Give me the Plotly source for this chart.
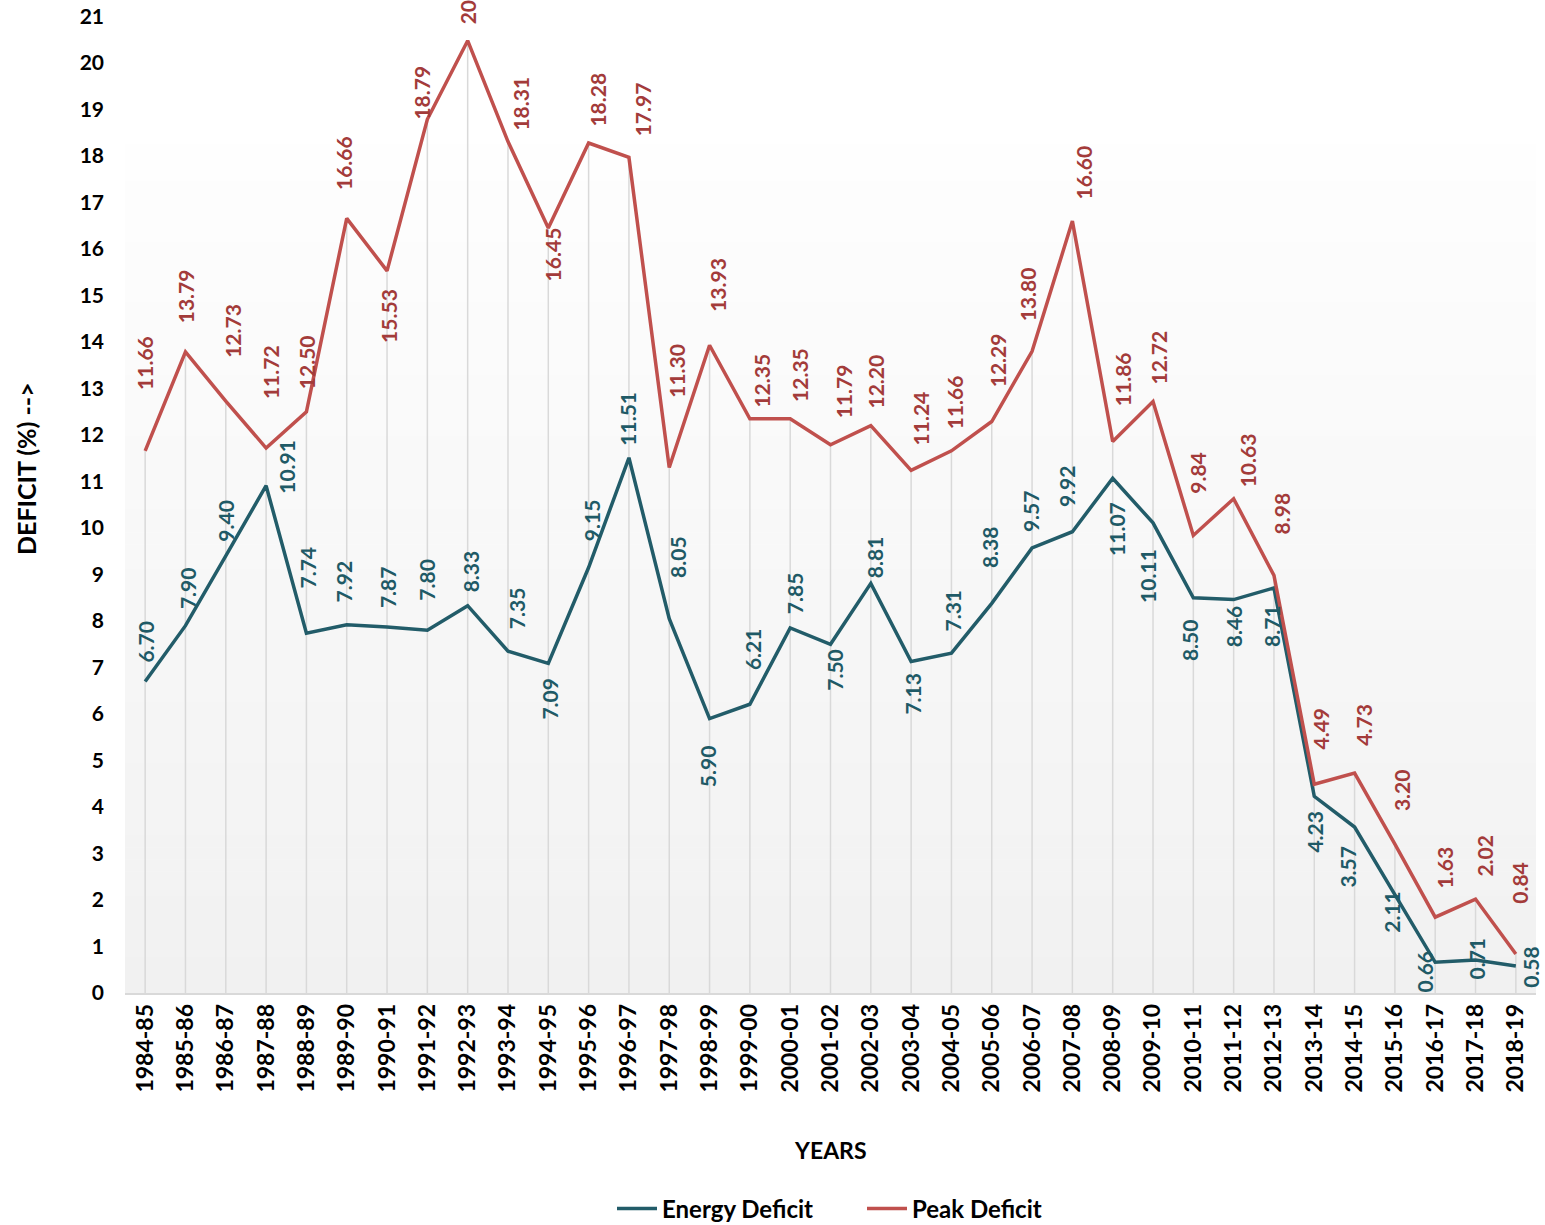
import plotly.graph_objects as go

# ---- data -------------------------------------------------------------
years = [
    "1984-85", "1985-86", "1986-87", "1987-88", "1988-89", "1989-90", "1990-91",
    "1991-92", "1992-93", "1993-94", "1994-95", "1995-96", "1996-97", "1997-98",
    "1998-99", "1999-00", "2000-01", "2001-02", "2002-03", "2003-04", "2004-05",
    "2005-06", "2006-07", "2007-08", "2008-09", "2009-10", "2010-11", "2011-12",
    "2012-13", "2013-14", "2014-15", "2015-16", "2016-17", "2017-18", "2018-19",
]
energy_deficit = [
    6.70, 7.90, 9.40, 10.91, 7.74, 7.92, 7.87, 7.80, 8.33, 7.35, 7.09, 9.15,
    11.51, 8.05, 5.90, 6.21, 7.85, 7.50, 8.81, 7.13, 7.31, 8.38, 9.57, 9.92,
    11.07, 10.11, 8.50, 8.46, 8.71, 4.23, 3.57, 2.11, 0.66, 0.71, 0.58,
]
peak_deficit = [
    11.66, 13.79, 12.73, 11.72, 12.50, 16.66, 15.53, 18.79, 20.48, 18.31, 16.45,
    18.28, 17.97, 11.30, 13.93, 12.35, 12.35, 11.79, 12.20, 11.24, 11.66, 12.29,
    13.80, 16.60, 11.86, 12.72, 9.84, 10.63, 8.98, 4.49, 4.73, 3.20, 1.63, 2.02,
    0.84,
]
y_ticks = list(range(0, 22))

# ---- label placement (pixel offsets of each label centre from its point) ----
energy_label_dx = [0, 2, 0, 21, 1, -3, 0, -1, 3, 8, 1, 3, -1, 8, -2, 2, 5, 4, 4, 1,
                   1, -2, -2, -6, 4, -5, -4, 0, -2, 0, -8, -3, -11, 1, 14]
energy_label_dy = [-40, -38, -35, -19, -66, -43, -40, -51, -34, -43, 35, -47, -39,
                   -62, 48, -55, -35, 26, -26, 32, -43, -56, -37, -46, 51, 53, 42,
                   27, 38, 35, 40, 17, 9, -1, 1]
peak_label_dx = [0, 0, 6, 4, 0, -3, 2, -6, 0, 13, 4, 9, 13, 7, 8, 12, 10, 13, 5, 9,
                 3, 6, -5, 11, 10, 6, 4, 14, 7, 6, 8, 6, 9, 9, 4]
peak_label_dy = [-88, -56, -70, -76, -50, -55, 45, -27, -43, -38, 26, -43, -48, -97,
                 -60, -38, -44, -53, -44, -52, -49, -61, -57, -49, -62, -44, -63,
                 -38, -62, -56, -48, -54, -50, -43, -71]

ENERGY_LINE = "#225c69"
ENERGY_TEXT = "#1f5a66"
PEAK_LINE = "#c0504d"
PEAK_TEXT = "#a33b3a"
FONT = "Lato"

# plot-area geometry in page pixels
W, H = 1545, 1225
M_L, M_R, M_T, M_B = 125, 9, 0, 232
PLOT_W = W - M_L - M_R
PLOT_H = H - M_T - M_B
Y_MAX = PLOT_H / 46.5

fig = go.Figure()

# vertical drop lines from each peak value down to the axis
drop_x, drop_y = [], []
for yr, v in zip(years, peak_deficit):
    drop_x += [yr, yr, None]
    drop_y += [0, v, None]
fig.add_trace(go.Scatter(
    x=drop_x, y=drop_y, mode="lines",
    line=dict(color="#d9d9d9", width=1.5),
    hoverinfo="skip", showlegend=False,
))

fig.add_trace(go.Scatter(
    x=years, y=energy_deficit, mode="lines", name="Energy Deficit",
    line=dict(color=ENERGY_LINE, width=3.5),
))
fig.add_trace(go.Scatter(
    x=years, y=peak_deficit, mode="lines", name="Peak Deficit",
    line=dict(color=PEAK_LINE, width=3.5),
))

# rotated value labels
annotations = []
for series, dxs, dys, col in (
    (energy_deficit, energy_label_dx, energy_label_dy, ENERGY_TEXT),
    (peak_deficit, peak_label_dx, peak_label_dy, PEAK_TEXT),
):
    for yr, v, dx, dy in zip(years, series, dxs, dys):
        annotations.append(dict(
            x=yr, y=v, xref="x", yref="y", text=f"{v:.2f}", showarrow=False,
            textangle=-90, xanchor="center", yanchor="middle",
            xshift=dx, yshift=-dy,
            font=dict(family=FONT, size=21, color=col, weight="bold"),
        ))

# axis titles
annotations.append(dict(
    x=(830 - M_L) / PLOT_W, y=(PLOT_H - 1150) / PLOT_H,
    xref="paper", yref="paper", text="YEARS", showarrow=False,
    xanchor="center", yanchor="middle",
    font=dict(family=FONT, size=23, color="#000000", weight="bold"),
))
annotations.append(dict(
    x=(26 - M_L) / PLOT_W, y=(PLOT_H - 469) / PLOT_H,
    xref="paper", yref="paper", text="DEFICIT (%) -->", showarrow=False,
    textangle=-90, xanchor="center", yanchor="middle",
    font=dict(family=FONT, size=25, color="#000000", weight="bold"),
))

# soft vertical gradient behind the plot
shapes = []
top = (PLOT_H - 145) / PLOT_H
n = 70
c_bot, c_top = 241, 254
for k in range(n):
    t = (k + 0.5) / n
    c = round(c_bot + (c_top - c_bot) * t)
    shapes.append(dict(
        type="rect", xref="paper", yref="paper", layer="below",
        x0=0, x1=1, y0=top * k / n, y1=top * (k + 1) / n + 0.0005,
        fillcolor=f"rgb({c},{c},{c})", line=dict(width=0),
    ))

fig.update_layout(
    width=W, height=H,
    margin=dict(l=M_L, r=M_R, t=M_T, b=M_B, pad=0, autoexpand=False),
    paper_bgcolor="#ffffff", plot_bgcolor="rgba(0,0,0,0)",
    font=dict(family=FONT, color="#000000"),
    annotations=annotations, shapes=shapes,
    showlegend=True,
    legend=dict(
        orientation="h", xref="container", yref="container",
        x=862 / W, y=1 - 1209 / H,
        xanchor="center", yanchor="middle",
        font=dict(family=FONT, size=24, color="#000000", weight="bold"),
        bgcolor="rgba(0,0,0,0)", itemwidth=40, tracegroupgap=0,
        entrywidth=195, entrywidthmode="pixels",
    ),
    xaxis=dict(
        type="category", categoryorder="array", categoryarray=years,
        range=[-0.5, len(years) - 0.5],
        showgrid=False, zeroline=False,
        showline=True, linecolor="#d9d9d9", linewidth=1.5,
        ticks="", tickangle=-90,
        tickfont=dict(family=FONT, size=23, color="#000000", weight="bold"),
    ),
    yaxis=dict(
        range=[0, Y_MAX], tickvals=y_ticks, ticktext=[str(t) for t in y_ticks],
        showgrid=False, zeroline=False, showline=False, ticks="",
        ticklabelstandoff=20,
        tickfont=dict(family=FONT, size=21, color="#000000", weight="bold"),
    ),
)

fig.write_html("out.html")
